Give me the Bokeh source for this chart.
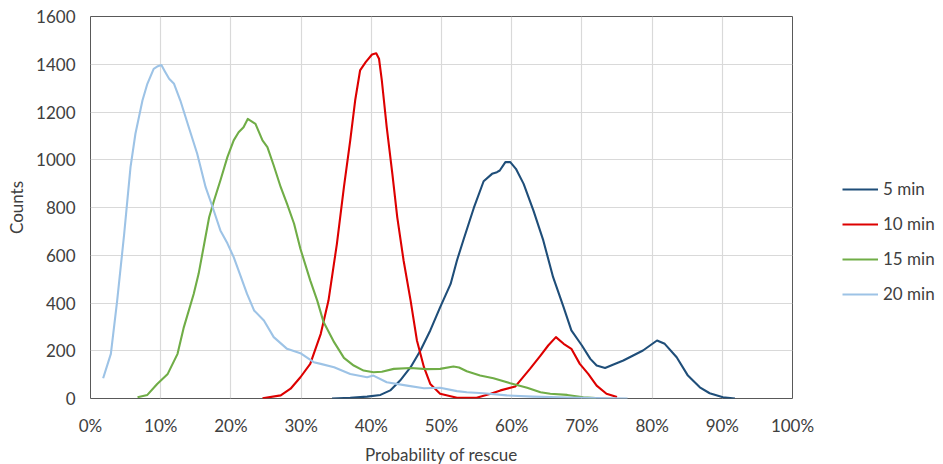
from bokeh.plotting import figure
from bokeh.models import Range1d, FixedTicker, NumeralTickFormatter, Legend, LegendItem
from bokeh.embed import file_html
from bokeh.resources import INLINE

# Probability of rescue (%) and counts for each response time
x_5min = [34.4, 37.0, 39.4, 41.3, 42.7, 44.1, 45.6, 47.0, 48.4, 49.8, 51.3, 52.2, 53.1, 54.6,
          56.0, 57.2, 57.9, 58.3, 59.1, 59.8, 60.6, 61.7, 63.1, 64.5, 65.9, 67.4, 68.5, 70.0,
          71.2, 72.1, 73.3, 74.5, 75.9, 77.3, 78.7, 79.7, 80.7, 81.8, 83.5, 85.1, 86.8, 88.2,
          90.1, 91.8]
y_5min = [0, 3, 8, 15, 34, 75, 131, 201, 285, 382, 480, 578, 662, 798,
          910, 941, 948, 955, 990, 990, 962, 899, 787, 662, 508, 382, 285, 222,
          166, 138, 128, 142, 159, 180, 201, 222, 243, 229, 173, 96, 47, 22,
          5, 0]

x_10min = [24.5, 27.1, 28.5, 29.9, 31.3, 32.8, 33.9, 35.1, 36.1, 37.0, 37.7, 38.4, 39.2, 40.1,
           40.7, 41.1, 41.5, 42.2, 43.0, 43.7, 44.6, 45.6, 46.5, 47.5, 48.4, 49.8, 52.2, 55.0,
           57.0, 58.4, 60.5, 62.6, 64.1, 65.2, 66.3, 67.4, 68.5, 69.7, 70.9, 72.1, 73.5, 75.0]
y_10min = [1, 13, 41, 89, 145, 271, 410, 648, 885, 1081, 1248, 1374, 1409, 1441,
           1446, 1423, 1332, 1136, 941, 759, 578, 410, 243, 131, 61, 20, 3, 3,
           20, 34, 50, 124, 180, 222, 257, 229, 208, 145, 103, 54, 20, 6]

x_15min = [6.7, 8.1, 9.5, 11.0, 12.4, 13.3, 14.7, 15.4, 16.2, 16.9, 17.6, 18.5, 19.5, 20.4,
           21.1, 21.8, 22.4, 23.0, 23.5, 24.5, 25.2, 26.1, 27.1, 28.0, 29.0, 29.9, 31.3, 32.3,
           33.2, 34.7, 36.1, 37.5, 38.9, 40.3, 41.5, 43.2, 45.6, 47.9, 49.8, 51.7, 52.5, 53.6,
           55.5, 57.4, 59.8, 62.2, 64.1, 65.5, 67.9, 70.2, 72.0]
y_15min = [5, 15, 61, 103, 187, 299, 438, 522, 648, 759, 829, 913, 1011, 1081,
           1115, 1136, 1171, 1160, 1150, 1081, 1053, 976, 885, 815, 732, 627, 495, 410,
           320, 236, 170, 138, 117, 110, 112, 124, 128, 123, 124, 134, 130, 114,
           96, 85, 64, 45, 26, 20, 15, 5, 2]

x_20min = [1.8, 2.9, 3.8, 4.8, 5.7, 6.4, 7.4, 8.1, 9.0, 9.6, 10.1, 10.6, 11.2, 11.9, 12.8,
           14.0, 15.2, 16.4, 17.4, 18.5, 19.5, 20.4, 21.1, 22.3, 23.3, 24.7, 26.1, 28.0, 29.9,
           31.8, 32.8, 34.7, 37.0, 39.4, 40.3, 42.2, 45.1, 47.5, 49.8, 52.2, 53.6, 56.0, 59.3,
           63.0, 68.0, 72.0, 76.5]
y_20min = [85, 187, 410, 690, 969, 1109, 1248, 1318, 1381, 1392, 1397, 1370, 1339, 1318, 1248,
           1136, 1025, 885, 801, 704, 650, 592, 536, 438, 369, 327, 257, 208, 190,
           152, 145, 131, 103, 89, 96, 68, 54, 43, 45, 31, 26, 22, 13,
           8, 4, 2, 0]

series = [
    ("5 min", x_5min, y_5min, "#1F4E79"),
    ("10 min", x_10min, y_10min, "#DD0000"),
    ("15 min", x_15min, y_15min, "#70AD47"),
    ("20 min", x_20min, y_20min, "#9DC3E6"),
]

x_ticks = [0.0, 0.1, 0.2, 0.3, 0.4, 0.5, 0.6, 0.7, 0.8, 0.9, 1.0]
y_ticks = [0, 200, 400, 600, 800, 1000, 1200, 1400, 1600]

FONT = "Lato"
TEXT = "#404040"
SIZE = "17px"

p = figure(frame_width=702, frame_height=382,
           x_range=Range1d(0, 1), y_range=Range1d(0, 1600),
           output_backend="svg", toolbar_location=None,
           min_border_left=90, min_border_right=151, min_border_top=16, min_border_bottom=66)

p.background_fill_color = "white"
p.border_fill_color = "white"
p.outline_line_color = "#595959"
p.outline_line_width = 1

p.xgrid.grid_line_color = "#D9D9D9"
p.ygrid.grid_line_color = "#D9D9D9"
p.xgrid.grid_line_width = 1.2
p.ygrid.grid_line_width = 1.2

p.xaxis.ticker = FixedTicker(ticks=x_ticks)
p.yaxis.ticker = FixedTicker(ticks=y_ticks)
p.xaxis.formatter = NumeralTickFormatter(format="0%")

for ax in (p.xaxis, p.yaxis):
    ax.axis_line_color = None
    ax.major_tick_line_color = None
    ax.minor_tick_line_color = None
    ax.major_tick_out = 0
    ax.major_label_text_font = FONT
    ax.major_label_text_font_size = SIZE
    ax.major_label_text_color = TEXT
    ax.axis_label_text_font = FONT
    ax.axis_label_text_font_size = SIZE
    ax.axis_label_text_font_style = "normal"
    ax.axis_label_text_color = TEXT

p.xaxis.axis_label = "Probability of rescue"
p.yaxis.axis_label = "Counts"
p.xaxis.major_label_standoff = 16
p.xaxis.axis_label_standoff = 5
p.yaxis.major_label_standoff = 15
p.yaxis.axis_label_standoff = 6

items = []
for name, xs, ys, color in series:
    r = p.line([v / 100 for v in xs], ys, line_color=color, line_width=2.1,
               line_join="round")
    items.append(LegendItem(label=name, renderers=[r]))

legend = Legend(items=items, location=(50, 94))
legend.border_line_color = None
legend.background_fill_alpha = 0
legend.padding = 0
legend.margin = 0
legend.spacing = 14
legend.glyph_width = 36
legend.glyph_height = 20
legend.label_height = 20
legend.label_standoff = 5
legend.label_text_font = FONT
legend.label_text_font_size = SIZE
legend.label_text_color = TEXT
p.add_layout(legend, "right")

open("out.html", "w").write(file_html(p, INLINE))
